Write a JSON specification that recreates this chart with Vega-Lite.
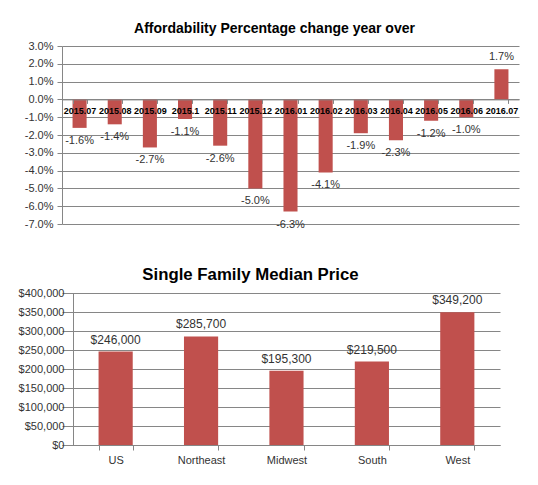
{
  "$schema": "https://vega.github.io/schema/vega-lite/v6.json",
  "padding": {"left": 10, "top": 22, "right": 5, "bottom": 5},
  "background": "white",
  "spacing": 37,
  "config": {
    "font": "Liberation Sans",
    "locale": {"number": {"decimal": ".", "thousands": ",", "grouping": [3], "currency": ["$", ""], "minus": "-"}},
    "view": {"stroke": null},
    "axis": {"labelFont": "Liberation Sans", "labelColor": "#333333", "domainColor": "#868686", "tickColor": "#868686", "gridColor": "#868686", "gridOpacity": 1, "domainOpacity": 1},
    "title": {"font": "Liberation Sans", "fontWeight": "bold", "color": "#000000", "anchor": "middle"}
  },
  "vconcat": [
    {
      "width": 457,
      "height": 178,
      "title": {"text": "Affordability Percentage change year over", "fontSize": 14, "dx": -16, "offset": 4},
      "data": {"values": [
        {"month": "2015.07", "change": -0.016},
        {"month": "2015.08", "change": -0.014},
        {"month": "2015.09", "change": -0.027},
        {"month": "2015.1", "change": -0.011},
        {"month": "2015.11", "change": -0.026},
        {"month": "2015.12", "change": -0.050},
        {"month": "2016.01", "change": -0.063},
        {"month": "2016.02", "change": -0.041},
        {"month": "2016.03", "change": -0.019},
        {"month": "2016.04", "change": -0.023},
        {"month": "2016.05", "change": -0.012},
        {"month": "2016.06", "change": -0.010},
        {"month": "2016.07", "change": 0.017}
      ]},
      "encoding": {
        "x": {"field": "month", "type": "nominal", "sort": null,
          "scale": {"paddingInner": 0.6, "paddingOuter": 0.3},
          "axis": {"title": null, "orient": "bottom", "offset": -124.6, "labelAngle": 0, "labelFontSize": 9, "labelFontWeight": "bold", "labelColor": "#000000", "tickBand": "extent", "tickSize": 4, "labelPadding": 3, "zindex": 1, "domainColor": "#868686"}},
        "y": {"field": "change", "type": "quantitative",
          "scale": {"domain": [-0.07, 0.03], "nice": false, "zero": false},
          "axis": {"title": null, "format": ".1%", "values": [-0.07, -0.06, -0.05, -0.04, -0.03, -0.02, -0.01, 0, 0.01, 0.02, 0.03], "labelFontSize": 11, "tickSize": 5, "labelPadding": 4, "minExtent": 52, "maxExtent": 52, "domain": true, "zindex": 0}}
      },
      "layer": [
        {"mark": {"type": "bar", "color": "#C0504D"}},
        {"transform": [{"filter": "datum.change < 0"}],
          "mark": {"type": "text", "fontSize": 11, "color": "#333333", "baseline": "middle", "dy": 13},
          "encoding": {"text": {"field": "change", "type": "quantitative", "format": ".1%"}}},
        {"transform": [{"filter": "datum.change >= 0"}],
          "mark": {"type": "text", "fontSize": 11, "color": "#333333", "baseline": "middle", "dy": -12},
          "encoding": {"text": {"field": "change", "type": "quantitative", "format": ".1%"}}}
      ]
    },
    {
      "width": 438,
      "height": 152,
      "title": {"text": "Single Family Median Price", "fontSize": 16.8, "dx": -30.5, "offset": 3},
      "data": {"values": [
        {"region": "US", "price": 246000},
        {"region": "Northeast", "price": 285700},
        {"region": "Midwest", "price": 195300},
        {"region": "South", "price": 219500},
        {"region": "West", "price": 349200}
      ]},
      "encoding": {
        "x": {"field": "region", "type": "nominal", "sort": null,
          "scale": {"paddingInner": 0.6, "paddingOuter": 0.364, "align": 0.588},
          "axis": {"title": null, "labelAngle": 0, "labelFontSize": 11, "tickBand": "extent", "tickSize": 5, "labelPadding": 4}},
        "y": {"field": "price", "type": "quantitative",
          "scale": {"domain": [0, 400000], "nice": false},
          "axis": {"title": null, "format": "$,.0f", "values": [0, 50000, 100000, 150000, 200000, 250000, 300000, 350000, 400000], "labelFontSize": 11, "tickSize": 5, "labelPadding": 4, "offset": -11, "minExtent": 30, "maxExtent": 52}}
      },
      "layer": [
        {"mark": {"type": "bar", "color": "#C0504D"}},
        {"mark": {"type": "text", "fontSize": 12, "color": "#333333", "baseline": "middle", "dy": -12},
          "encoding": {"text": {"field": "price", "type": "quantitative", "format": "$,.0f"}}}
      ]
    }
  ]
}
